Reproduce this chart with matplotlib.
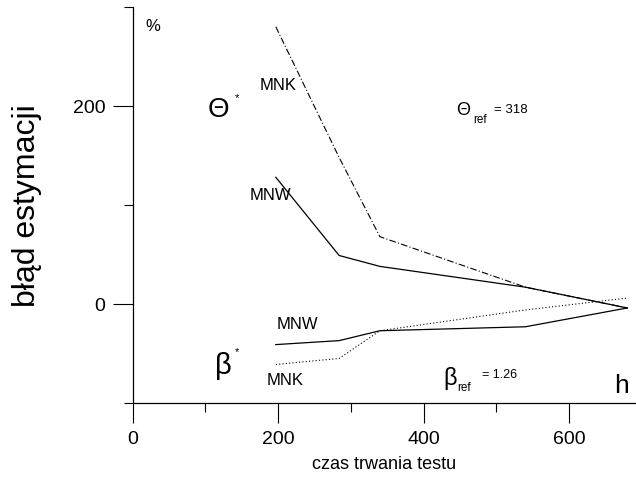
import matplotlib.pyplot as plt
import matplotlib.ticker as mticker

plt.rcParams['font.family'] = ['Liberation Sans', 'DejaVu Sans']

# --- data ---
test_time = [197, 284, 340, 540, 680]
theta_mnk = [280, 148, 68, 17, -4]
theta_mnw = [128, 49, 38, 17, -4]
beta_mnk = [-61, -55, -27, -6, 6]
beta_mnw = [-41, -37, -27, -23, -4]

fig = plt.figure(figsize=(6.36, 4.81), dpi=100)
ax = fig.add_axes([132.5 / 636, 77 / 481, 503.5 / 636, 396 / 481])

# --- curves ---
ax.plot(test_time, theta_mnk, color='black', lw=0.8, ls=(0, (6, 2, 1, 2)))
ax.plot(test_time, theta_mnw, color='black', lw=0.9, ls='-')
ax.plot(test_time, beta_mnk, color='black', lw=0.8, ls=(0, (1, 2)))
ax.plot(test_time, beta_mnw, color='black', lw=0.9, ls='-')

# --- axes formatting ---
ax.set_xlim(0, 692)
ax.set_ylim(-100, 300)
for side in ['top', 'right']:
    ax.spines[side].set_visible(False)
ax.spines['left'].set_linewidth(0.9)
ax.spines['bottom'].set_linewidth(0.9)
ax.xaxis.set_major_locator(mticker.MultipleLocator(200))
ax.xaxis.set_minor_locator(mticker.MultipleLocator(100))
ax.yaxis.set_major_locator(mticker.FixedLocator([0, 200]))
ax.yaxis.set_minor_locator(mticker.FixedLocator([-100, 100, 300]))
ax.tick_params(which='major', direction='out', length=14.5, width=0.8,
               labelsize=14, pad=5)
ax.tick_params(which='minor', direction='out', length=6.5, width=0.8)

ax.set_xlabel("czas trwania testu", fontsize=13, labelpad=6)
ax.set_ylabel("błąd estymacji", fontsize=23, labelpad=22)

# --- annotations ---
ax.text(28, 281, "%", fontsize=12, ha='center', va='center')
ax.text(672, -82, "h", fontsize=19, ha='center', va='center')

ax.text(118, 197, "Θ", fontsize=20, ha='center', va='center')
ax.text(143, 209, "*", fontsize=8, ha='center', va='center')
ax.text(125, -62, "β", fontsize=21, ha='center', va='center')
ax.text(144, -48, "*", fontsize=8, ha='center', va='center')

ax.text(200, 222, "MNK", fontsize=12, ha='center', va='center')
ax.text(190, 111, "MNW", fontsize=12, ha='center', va='center')
ax.text(226, -20, "MNW", fontsize=12, ha='center', va='center')
ax.text(210, -76, "MNK", fontsize=12, ha='center', va='center')

ax.text(454, 196, "Θ", fontsize=13, ha='center', va='center')
ax.text(478, 187, "ref", fontsize=8.5, ha='center', va='center')
ax.text(520, 197, "= 318", fontsize=9.5, ha='center', va='center')

ax.text(436, -74, "β", fontsize=17, ha='center', va='center')
ax.text(456, -84, "ref", fontsize=8.5, ha='center', va='center')
ax.text(505, -71, "= 1.26", fontsize=9, ha='center', va='center')

plt.savefig("out.png", dpi=100)
